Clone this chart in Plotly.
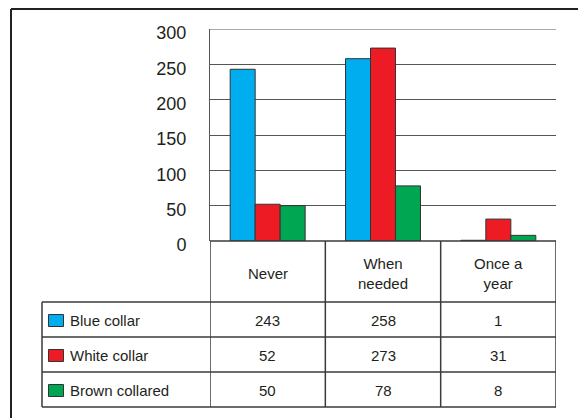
import plotly.graph_objects as go

W, H = 578, 418
categories = ["Never", "When needed", "Once a year"]
category_labels = ["Never", "When<br>needed", "Once a<br>year"]
series_names = ["Blue collar", "White collar", "Brown collared"]
blue_collar = [243, 258, 1]
white_collar = [52, 273, 31]
brown_collared = [50, 78, 8]
series_values = [blue_collar, white_collar, brown_collared]
colors = ["#00AEEF", "#ED1C24", "#00A651"]
y_ticks = [0, 50, 100, 150, 200, 250, 300]

def px(x):
    return x / W

def py(y):
    return 1 - y / H

TXT = "#231F20"
LINE = "#3a3a3a"
FONT = "Liberation Sans, Arial, sans-serif"
NARROW = "Liberation Sans Narrow, Arial Narrow, Liberation Sans, sans-serif"

fig = go.Figure()
xs = list(range(len(categories)))
for name, vals, col in zip(series_names, series_values, colors):
    fig.add_trace(go.Bar(x=xs, y=vals, name=name, marker=dict(color=col, line=dict(color="#333333", width=1))))

plot_left, plot_right, plot_top, plot_bottom = 210, 556, 29, 241
fig.update_layout(
    width=W, height=H, margin=dict(l=0, r=0, t=0, b=0, autoexpand=False), autosize=False,
    paper_bgcolor="white", plot_bgcolor="white",
    barmode="group", bargap=0.35, bargroupgap=0,
    showlegend=False,
    font=dict(family=FONT, color=TXT),
    xaxis=dict(domain=[px(plot_left), px(plot_right)], range=[-0.5, len(categories) - 0.5],
               showticklabels=False, showgrid=False, zeroline=False, showline=False,
               automargin=False, fixedrange=True),
    yaxis=dict(domain=[py(plot_bottom), py(plot_top)], range=[y_ticks[0], y_ticks[-1]], tickvals=y_ticks,
               showgrid=True, gridcolor="#555555", gridwidth=1, zeroline=False,
               showline=True, linecolor="#555555", linewidth=1,
               tickfont=dict(size=18, color=TXT, family=NARROW), ticklabelstandoff=19,
               ticklabelshift=4, automargin=False, fixedrange=True),
)

shapes = []
# outer frame
shapes.append(dict(type="line", xref="paper", yref="paper", x0=px(11), x1=1, y0=py(9), y1=py(9), line=dict(color="#222", width=2)))
shapes.append(dict(type="line", xref="paper", yref="paper", x0=px(11), x1=px(11), y0=py(9), y1=0, line=dict(color="#222", width=2)))

# table geometry
table_left = 42
header_bottom = 302
row_h = 35
n_rows = len(series_names)
table_bottom = header_bottom + row_h * n_rows
bounds = [i - 0.5 for i in range(len(categories) + 1)]
# top gridline (at the top of the value range)
shapes.append(dict(type="line", xref="x", yref="y", x0=bounds[0], x1=bounds[-1], y0=y_ticks[-1], y1=y_ticks[-1], line=dict(color="#555555", width=1)))
for b in bounds:
    shapes.append(dict(type="line", xref="x", yref="paper", x0=b, x1=b, y0=py(plot_bottom), y1=py(table_bottom), line=dict(color=LINE, width=1.5)))
shapes.append(dict(type="line", xref="paper", yref="paper", x0=px(table_left), x1=px(table_left), y0=py(header_bottom), y1=py(table_bottom), line=dict(color=LINE, width=1.5)))
shapes.append(dict(type="line", xref="x", yref="paper", x0=bounds[0], x1=bounds[-1], y0=py(plot_bottom), y1=py(plot_bottom), line=dict(color=LINE, width=1.5)))
for r in range(n_rows + 1):
    yy = header_bottom + r * row_h
    shapes.append(dict(type="line", xref="paper", yref="paper", x0=px(table_left), x1=px(plot_right), y0=py(yy), y1=py(yy), line=dict(color=LINE, width=1.5)))

annotations = []
for i, lab in enumerate(category_labels):
    annotations.append(dict(x=i, xref="x", y=py(273), yref="paper", text=lab, showarrow=False,
                            font=dict(size=15, color=TXT, family=FONT), xanchor="center", yanchor="middle", align="center"))
for r, (name, vals, col) in enumerate(zip(series_names, series_values, colors)):
    cy = header_bottom + r * row_h + row_h / 2 + 1
    shapes.append(dict(type="rect", xref="paper", yref="paper", x0=px(48.5), x1=px(63.5), y0=py(cy - 6), y1=py(cy + 6), fillcolor=col, line=dict(color="#333", width=1)))
    annotations.append(dict(x=px(68), xref="paper", y=py(cy), yref="paper", text=name, showarrow=False,
                            font=dict(size=15, color=TXT, family=FONT), xanchor="left", yanchor="middle"))
    for i, v in enumerate(vals):
        annotations.append(dict(x=i, xref="x", y=py(cy), yref="paper", text=str(v), showarrow=False,
                                font=dict(size=15, color=TXT, family=FONT), xanchor="center", yanchor="middle"))

fig.update_layout(shapes=shapes, annotations=annotations)
fig.write_html("out.html", post_script="document.body.style.margin='0';document.body.style.overflow='hidden';")
